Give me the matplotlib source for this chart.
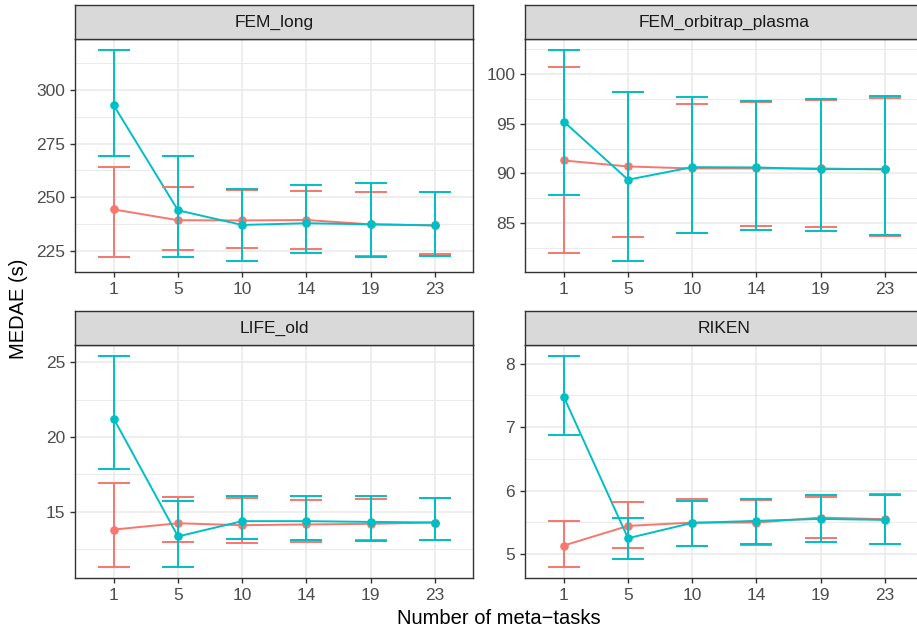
import numpy as np
import matplotlib
matplotlib.use("Agg")
import matplotlib.pyplot as plt

plt.rcParams["font.family"] = ["Liberation Sans", "DejaVu Sans"]

# categorías del eje x (discreto)
tasks = ["1", "5", "10", "14", "19", "23"]
panels = ["FEM_long", "FEM_orbitrap_plasma", "LIFE_old", "RIKEN"]

# FEM_long
fem_long_red = [244.4, 239.4, 239.3, 239.5, 237.5, 237.0]
fem_long_red_lo = [222.2, 225.5, 226.4, 225.9, 222.7, 223.5]
fem_long_red_hi = [264.2, 254.6, 253.2, 252.8, 252.3, 252.6]
fem_long_teal = [292.7, 244.0, 237.2, 238.0, 237.5, 237.0]
fem_long_teal_lo = [269.4, 222.1, 220.4, 224.1, 222.4, 222.7]
fem_long_teal_hi = [318.5, 269.3, 253.7, 255.6, 256.6, 252.6]

# FEM_orbitrap_plasma
orbi_red = [91.3, 90.7, 90.5, 90.5, 90.5, 90.4]
orbi_red_lo = [81.97, 83.67, 84.07, 84.77, 84.6, 83.73]
orbi_red_hi = [100.73, 98.2, 96.93, 97.13, 97.4, 97.57]
orbi_teal = [95.2, 89.37, 90.63, 90.6, 90.43, 90.43]
orbi_teal_lo = [87.8, 81.2, 84.07, 84.37, 84.27, 83.87]
orbi_teal_hi = [102.4, 98.2, 97.63, 97.27, 97.5, 97.8]

# LIFE_old
life_red = [13.82, 14.24, 14.11, 14.16, 14.2, 14.29]
life_red_lo = [11.31, 12.98, 12.89, 13.0, 13.11, 13.13]
life_red_hi = [16.96, 16.0, 15.91, 15.82, 15.87, 15.93]
life_teal = [21.22, 13.36, 14.38, 14.38, 14.33, 14.29]
life_teal_lo = [17.89, 11.33, 13.16, 13.11, 13.07, 13.13]
life_teal_hi = [25.44, 15.73, 16.09, 16.09, 16.04, 15.93]

# RIKEN
riken_red = [5.136, 5.445, 5.497, 5.497, 5.576, 5.55]
riken_red_lo = [4.796, 5.094, 5.13, 5.141, 5.262, 5.157]
riken_red_hi = [5.524, 5.827, 5.864, 5.853, 5.906, 5.948]
riken_teal = [7.476, 5.251, 5.492, 5.524, 5.555, 5.539]
riken_teal_lo = [6.874, 4.921, 5.126, 5.157, 5.188, 5.157]
riken_teal_hi = [8.126, 5.576, 5.838, 5.874, 5.927, 5.927]

yticks = {
    "FEM_long": [225, 250, 275, 300],
    "FEM_orbitrap_plasma": [85, 90, 95, 100],
    "LIFE_old": [15, 20, 25],
    "RIKEN": [5, 6, 7, 8],
}

data = {
    "FEM_long": [(fem_long_red, fem_long_red_lo, fem_long_red_hi),
                 (fem_long_teal, fem_long_teal_lo, fem_long_teal_hi)],
    "FEM_orbitrap_plasma": [(orbi_red, orbi_red_lo, orbi_red_hi),
                            (orbi_teal, orbi_teal_lo, orbi_teal_hi)],
    "LIFE_old": [(life_red, life_red_lo, life_red_hi),
                 (life_teal, life_teal_lo, life_teal_hi)],
    "RIKEN": [(riken_red, riken_red_lo, riken_red_hi),
              (riken_teal, riken_teal_lo, riken_teal_hi)],
}

COLS = ["#F8766D", "#00BFC4"]
W, H = 917, 632
BORDER = "#333333"

# geometría en píxeles (izq, der) y (arriba strip, abajo strip, abajo panel)
cols_px = [(75.3, 473.3), (525.3, 923.3)]
rows_px = [(5, 39.3, 271.7), (311, 345, 577.7)]

fig = plt.figure(figsize=(W / 100, H / 100), dpi=100)

x = np.arange(len(tasks))
for k, name in enumerate(panels):
    r, c = divmod(k, 2)
    x0, x1 = cols_px[c]
    st, sb, pb = rows_px[r]
    ax = fig.add_axes([x0 / W, 1 - pb / H, (x1 - x0) / W, (pb - sb) / H])
    sax = fig.add_axes([x0 / W, 1 - sb / H, (x1 - x0) / W, (sb - st) / H])

    # strip
    sax.set_facecolor("#D9D9D9")
    sax.set_xticks([]); sax.set_yticks([])
    for sp in sax.spines.values():
        sp.set_color(BORDER); sp.set_linewidth(1.0)
    sax.text(0.5, 0.48, name, ha="center", va="center", fontsize=12.5,
             color="#1A1A1A", transform=sax.transAxes)

    series = data[name]
    lo_all = min(min(s[1]) for s in series)
    hi_all = max(max(s[2]) for s in series)
    pad = 0.05 * (hi_all - lo_all)
    ylo, yhi = lo_all - pad, hi_all + pad

    # capas: líneas, puntos, barras de error
    for i, (m, lo, hi) in enumerate(series):
        ax.plot(x, m, color=COLS[i], lw=1.4, zorder=3 + i * 0.1)
    for i, (m, lo, hi) in enumerate(series):
        ax.plot(x, m, "o", color=COLS[i], ms=6.2, mew=0, zorder=4 + i * 0.1)
    for i, (m, lo, hi) in enumerate(series):
        ax.vlines(x, lo, hi, color=COLS[i], lw=1.4, zorder=5 + i * 0.1)
        ax.hlines(lo, x - 0.25, x + 0.25, color=COLS[i], lw=1.4, zorder=5 + i * 0.1)
        ax.hlines(hi, x - 0.25, x + 0.25, color=COLS[i], lw=1.4, zorder=5 + i * 0.1)

    ax.set_xlim(-0.6, len(tasks) - 0.4)
    ax.set_ylim(ylo, yhi)
    ax.set_xticks(x)
    ax.set_xticklabels(tasks)
    yt = yticks[name]
    ax.set_yticks(yt)
    step = yt[1] - yt[0]
    minors = [v for v in np.arange(yt[0] - step / 2, yt[-1] + step, step) if ylo < v < yhi]
    ax.set_yticks(minors, minor=True)
    ax.tick_params(axis="y", which="minor", length=0)
    ax.grid(True, which="major", color="#EBEBEB", lw=1.2, zorder=0)
    ax.grid(True, which="minor", axis="y", color="#EBEBEB", lw=0.7, zorder=0)
    ax.set_axisbelow(True)
    ax.tick_params(which="major", length=3.8, width=1.0, color=BORDER,
                   labelsize=12.5, labelcolor="#4D4D4D", pad=3.5)
    for sp in ax.spines.values():
        sp.set_color(BORDER); sp.set_linewidth(1.0)
        sp.set_zorder(10)

fig.text(18.8 / W, 1 - 309 / H, "MEDAE (s)", rotation=90, ha="center", va="center",
         fontsize=14.5, color="black")
fig.text(499 / W, 1 - 619 / H, "Number of meta\u2212tasks", ha="center", va="center",
         fontsize=14.5, color="black")

fig.savefig("out.png", dpi=100)
